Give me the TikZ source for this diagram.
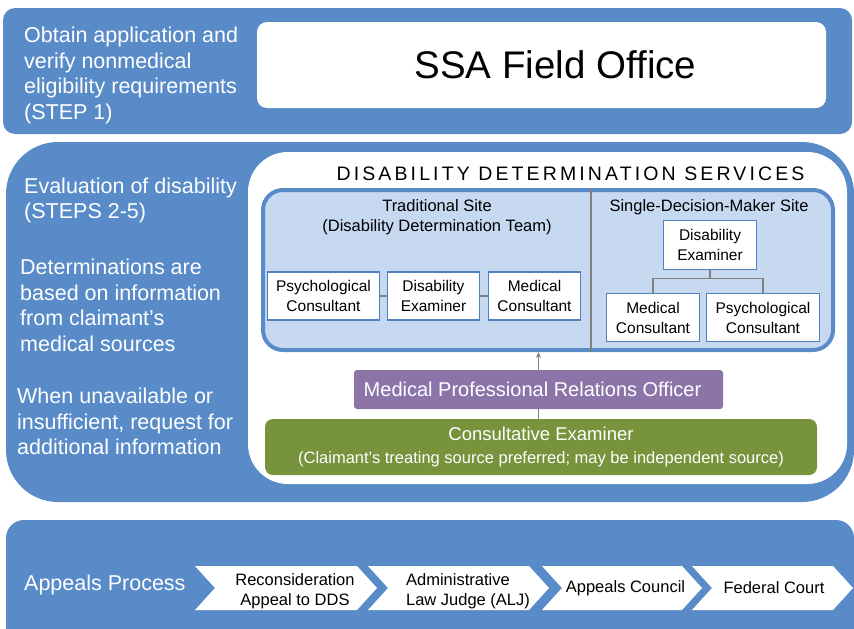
\documentclass[tikz,border=0pt]{standalone}
\usepackage{fontspec}
\setmainfont{Liberation Sans}
\usetikzlibrary{arrows.meta}
\definecolor{bandblue}{HTML}{588BC8}
\definecolor{edgeblue}{HTML}{4F81BD}
\definecolor{panelblue}{HTML}{C6D9F0}
\definecolor{mprpurple}{HTML}{8C74A9}
\definecolor{cegreen}{HTML}{77933C}
\definecolor{linegray}{HTML}{808080}
\tikzset{
  sidetext/.style={anchor=west, inner sep=0pt, align=left, text=white, font=\fontsize{21.5}{25.6}\selectfont},
  staff/.style={draw=edgeblue, line width=1.5pt, fill=white, inner sep=2pt, align=center, font=\fontsize{15.5}{20}\selectfont},
  link/.style={draw=linegray, line width=1.5pt},
  chevtext/.style={align=center, inner sep=0pt, font=\fontsize{16.5}{20}\selectfont}
}
\begin{document}
\begin{tikzpicture}[x=1pt,y=-1pt]
\useasboundingbox (0,0) rectangle (854,629);

\fill[bandblue, rounded corners=12pt] (3,8) rectangle (852,134);
\node[fill=white, rounded corners=10pt, minimum width=569pt, minimum height=86pt, font=\fontsize{38.5}{44}\selectfont] (ssa) at (541.5,65) {\hspace*{28pt}SSA Field Office};
\node[sidetext] (steponetext) at (24,75.5) {Obtain application and\\verify nonmedical\\eligibility requirements\\(STEP 1)};

\fill[bandblue, rounded corners=52pt] (6,142) rectangle (854,502);
\fill[white, rounded corners=40pt] (248,152) rectangle (847,484);
\node[sidetext] (evaltext) at (24,200.5) {Evaluation of disability\\(STEPS 2-5)};
\node[sidetext] (dettext) at (20,305.5) {Determinations are\\based on information\\from claimant’s\\medical sources};
\node[sidetext] (whentext) at (17,421.5) {When unavailable or\\insufficient, request for\\additional information};

\node[font=\fontsize{19.5}{24}\selectfont\addfontfeatures{LetterSpace=16}] (ddstitle) at (570.5,174) {DISABILITY DETERMINATION SERVICES};
\node[draw=bandblue, line width=4pt, fill=panelblue, rounded corners=20pt, minimum width=570pt, minimum height=160pt] (dds) at (548,270) {};
\coordinate (split) at (591,270);
\draw[linegray, line width=2pt] (dds.north -| split) -- (dds.south -| split);

\node[font=\fontsize{16.5}{20}\selectfont, align=center] (tradsite) at (437,217) {Traditional Site\\(Disability Determination Team)};
\node[font=\fontsize{16.5}{20}\selectfont] (sdmsite) at (709,207) {Single-Decision-Maker Site};

\node[staff, minimum width=112pt, minimum height=48pt] (psyA) at (323.5,296) {Psychological\\Consultant};
\node[staff, minimum width=92pt, minimum height=48pt] (deA) at (433.5,296) {Disability\\Examiner};
\node[staff, minimum width=92pt, minimum height=48pt] (medA) at (534.5,296) {Medical\\Consultant};
\draw[link] (psyA) -- (deA);
\draw[link] (deA) -- (medA);

\node[staff, minimum width=93pt, minimum height=49pt] (deB) at (710,245) {Disability\\Examiner};
\node[staff, minimum width=93pt, minimum height=48pt] (medB) at (653,317.5) {Medical\\Consultant};
\node[staff, minimum width=113pt, minimum height=48pt] (psyB) at (763,317.5) {Psychological\\Consultant};
\draw[link] (deB.south) -- ++(0,8) -| (medB.north);
\draw[link] (deB.south) -- ++(0,8) -| (psyB.north);

\node[fill=mprpurple, rounded corners=3pt, minimum width=369pt, minimum height=39pt, text=white, font=\fontsize{20}{24}\selectfont] (mpro) at (538.5,389.5) {Medical Professional Relations Officer\hspace*{12pt}};
\node[fill=cegreen, rounded corners=8pt, minimum width=552pt, minimum height=56pt, text=white, align=center, font=\fontsize{16.5}{23}\selectfont] (ce) at (541,447) {{\fontsize{18.5}{23}\selectfont Consultative Examiner}\\(Claimant’s treating source preferred; may be independent source)};
\draw[linegray, line width=1.5pt, -{Stealth[length=6pt,width=5pt]}] (mpro.north) -- (mpro.north |- dds.south);
\draw[linegray, line width=1.5pt] (ce.north -| mpro.south) -- (mpro.south);

\fill[bandblue, rounded corners=18pt] (6,520) rectangle (854,650);
\node[sidetext] (appeals) at (24,585) {Appeals Process};
\foreach \lx/\rx in {195/377, 368/549, 542/702, 692/853}
  \fill[white] (\lx,566) -- (\rx-20,566) -- (\rx,588) -- (\rx-20,610) -- (\lx,610) -- (\lx+20,588) -- cycle;
\node[chevtext] (recon) at (295,591) {Reconsideration\\Appeal to DDS};
\node[chevtext, align=left] (alj) at (468,591) {Administrative\\Law Judge (ALJ)};
\node[chevtext] (council) at (625.5,588) {Appeals Council};
\node[chevtext] (court) at (774,588) {Federal Court};

\end{tikzpicture}
\end{document}
